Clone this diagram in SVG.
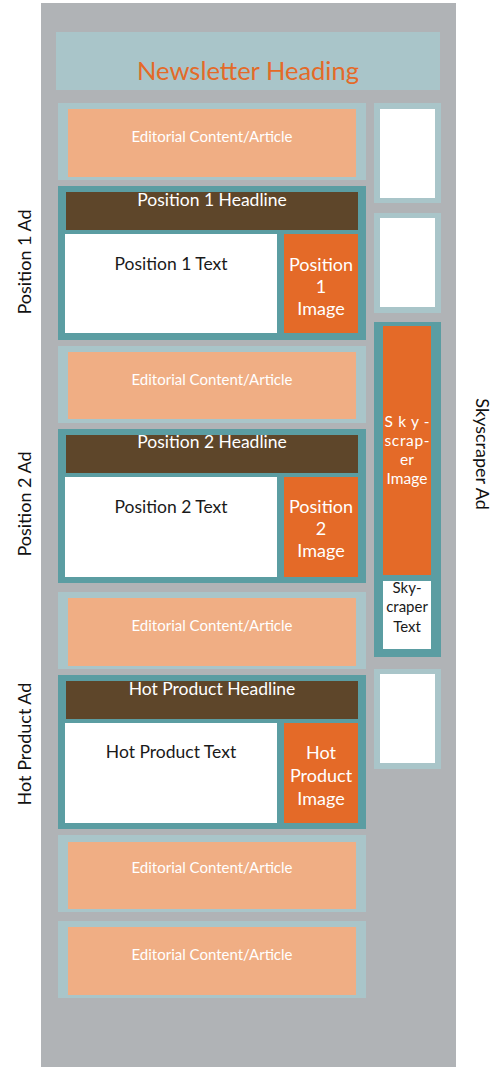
<svg xmlns="http://www.w3.org/2000/svg" width="499" height="1067" viewBox="0 0 499 1067">
<style>
text{font-family:Lato,"Noto Sans","Liberation Sans",sans-serif;text-anchor:middle}
.bg{fill:#B0B3B6}
.lt{fill:#A9C5C9}
.dk{fill:#5B9DA2}
.sal{fill:#F0AE84}
.br{fill:#5E462A}
.or{fill:#E46A28}
.wh{fill:#FFFFFF}
.ed{fill:#FFFFFF;font-size:15px}
.hd{fill:#FFFFFF;font-size:17.5px}
.bt{fill:#1A1A1A;font-size:17.5px}
.it{fill:#FFFFFF;font-size:18px}
.sk{fill:#FFFFFF;font-size:15.5px}
.st{fill:#1A1A1A;font-size:15px}
.lab{fill:#111111;font-size:18px}
</style>
<rect class="bg" x="41" y="3" width="415" height="1064"/>
<g id="heading">
<rect class="lt" x="56" y="32" width="384" height="58"/>
<text x="248" y="80" style="fill:#E46A28;font-size:25.5px">Newsletter Heading</text>
</g>
<g id="editorial1">
<rect class="lt" x="58" y="103" width="308" height="77"/>
<rect class="sal" x="68" y="109" width="288" height="68"/>
<text class="ed" x="212" y="142">Editorial Content/Article</text>
</g>
<g id="position1">
<rect class="dk" x="58" y="186" width="308" height="154"/>
<rect class="br" x="66" y="192" width="292" height="38"/>
<text class="hd" x="212" y="206">Position 1 Headline</text>
<rect class="wh" x="65" y="234" width="212" height="99"/>
<text class="bt" x="171" y="270">Position 1 Text</text>
<rect class="or" x="284" y="234" width="74" height="99"/>
<text class="it" x="321" y="271">Position</text>
<text class="it" x="321" y="293">1</text>
<text class="it" x="321" y="315">Image</text>
</g>
<g id="editorial2">
<rect class="lt" x="58" y="346" width="308" height="77"/>
<rect class="sal" x="68" y="352" width="288" height="67"/>
<text class="ed" x="212" y="385">Editorial Content/Article</text>
</g>
<g id="position2">
<rect class="dk" x="58" y="429" width="308" height="154"/>
<rect class="br" x="66" y="435" width="292" height="38"/>
<text class="hd" x="212" y="448">Position 2 Headline</text>
<rect class="wh" x="65" y="477" width="212" height="100"/>
<text class="bt" x="171" y="513">Position 2 Text</text>
<rect class="or" x="284" y="477" width="74" height="100"/>
<text class="it" x="321" y="513">Position</text>
<text class="it" x="321" y="535">2</text>
<text class="it" x="321" y="557">Image</text>
</g>
<g id="editorial3">
<rect class="lt" x="58" y="592" width="308" height="77"/>
<rect class="sal" x="68" y="598" width="288" height="68"/>
<text class="ed" x="212" y="631">Editorial Content/Article</text>
</g>
<g id="hotproduct">
<rect class="dk" x="58" y="675" width="308" height="154"/>
<rect class="br" x="66" y="681" width="292" height="38"/>
<text class="hd" x="212" y="695">Hot Product Headline</text>
<rect class="wh" x="65" y="723" width="212" height="100"/>
<text class="bt" x="171" y="758">Hot Product Text</text>
<rect class="or" x="284" y="723" width="74" height="100"/>
<text class="it" x="321" y="759">Hot</text>
<text class="it" x="321" y="782">Product</text>
<text class="it" x="321" y="805">Image</text>
</g>
<g id="editorial4">
<rect class="lt" x="58" y="835" width="308" height="77"/>
<rect class="sal" x="68" y="842" width="288" height="67"/>
<text class="ed" x="212" y="873">Editorial Content/Article</text>
</g>
<g id="editorial5">
<rect class="lt" x="58" y="921" width="308" height="77"/>
<rect class="sal" x="68" y="927" width="288" height="68"/>
<text class="ed" x="212" y="960">Editorial Content/Article</text>
</g>
<g id="side1">
<rect class="lt" x="374" y="103" width="67" height="100"/>
<rect class="wh" x="380" y="109" width="55" height="89"/>
</g>
<g id="side2">
<rect class="lt" x="374" y="213" width="67" height="100"/>
<rect class="wh" x="380" y="218" width="55" height="89"/>
</g>
<g id="skyscraper">
<rect class="dk" x="374" y="322" width="67" height="335"/>
<rect class="or" x="383" y="326" width="48" height="249"/>
<text class="sk" x="407" y="427" textLength="45" lengthAdjust="spacing">S k y -</text>
<text class="sk" x="407" y="446" textLength="45" lengthAdjust="spacing">scrap-</text>
<text class="sk" x="407" y="465">er</text>
<text class="sk" x="407" y="484">Image</text>
<rect class="wh" x="383" y="581" width="48" height="68"/>
<text class="st" x="407" y="593">Sky-</text>
<text class="st" x="407" y="612">craper</text>
<text class="st" x="407" y="632">Text</text>
</g>
<g id="side4">
<rect class="lt" x="374" y="669" width="67" height="100"/>
<rect class="wh" x="380" y="674" width="55" height="89"/>
</g>
<g id="labels">
<text class="lab" transform="translate(31,262) rotate(-90)">Position 1 Ad</text>
<text class="lab" transform="translate(31,504) rotate(-90)">Position 2 Ad</text>
<text class="lab" transform="translate(31,744) rotate(-90)">Hot Product Ad</text>
<text class="lab" transform="translate(476,454) rotate(90)">Skyscraper Ad</text>
</g>
</svg>
